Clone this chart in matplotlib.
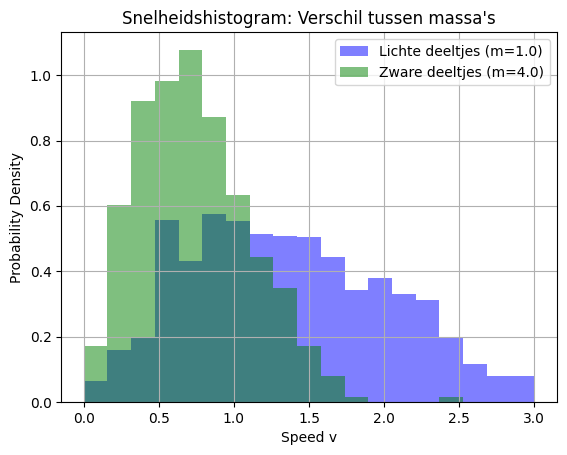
import numpy as np
import matplotlib
matplotlib.use("Agg")
import matplotlib.pyplot as plt

# shared bin edges (19 bins from 0 to 3)
edges = np.linspace(0.0, 3.0, 20)

# probability densities
light_density = [0.066, 0.161, 0.199, 0.556, 0.432, 0.574, 0.553, 0.513, 0.507, 0.504,
                 0.443, 0.342, 0.380, 0.331, 0.312, 0.197, 0.116, 0.080, 0.080]
heavy_density = [0.173, 0.602, 0.920, 0.982, 1.077, 0.871, 0.633, 0.443, 0.349, 0.173,
                 0.079, 0.015, 0.0, 0.0, 0.0, 0.015, 0.0, 0.0, 0.0]

light_label = "Lichte deeltjes (m=1.0)"
heavy_label = "Zware deeltjes (m=4.0)"

fig, ax = plt.subplots(figsize=(5.67, 4.55), dpi=100)
fig.subplots_adjust(left=0.108, right=0.982, top=0.929, bottom=0.116)

ax.hist(edges[:-1], bins=edges, weights=light_density, alpha=0.5, color='blue', label=light_label)
ax.hist(edges[:-1], bins=edges, weights=heavy_density, alpha=0.5, color='green', label=heavy_label)

ax.set_title("Snelheidshistogram: Verschil tussen massa's")
ax.set_xlabel('Speed v')
ax.set_ylabel('Probability Density')
ax.legend()
ax.grid(True)

fig.savefig("out.png", dpi=100)
